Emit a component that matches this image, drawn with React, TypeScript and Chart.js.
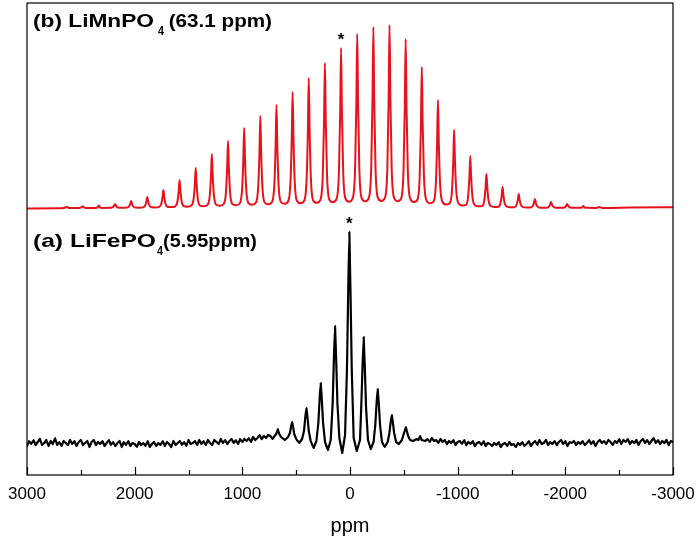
import React, { useEffect, useRef } from "react";
import { Chart, registerables } from "chart.js";

Chart.register(...registerables);

// ---------- axis ----------
const X_MIN = -3000;
const X_MAX = 3000;
const X_MAJOR_TICKS = [3000, 2000, 1000, 0, -1000, -2000, -3000];
const X_MINOR_TICKS = [2500, 1500, 500, -500, -1500, -2500];
const X_TITLE = "ppm";

// ---------- labels ----------
const LABEL_B = ["(b) LiMnPO", "4", " (63.1 ppm)"];
const LABEL_A = ["(a) LiFePO", "4", "(5.95ppm)"];
const STAR = "*";

// ---------- (b) LiMnPO4 spectrum: [ppm, intensity] ----------
const RED_SPECTRUM: [number, number][] = [
  [3000, -0.5], [2720, -0.3],
  [2660, 0], [2633, 1], [2606, 0],
  [2510, 0], [2483, 1.5], [2456, 0],
  [2365, 0.1], [2345, 0.6], [2333, 2.5], [2321, 0.6], [2301, 0.1],
  [2220, 0.25], [2203, 0.9], [2191, 2.4], [2183, 4], [2175, 2.4], [2163, 0.9], [2143, 0.25],
  [2108, 0.2],
  [2073, 0.4], [2053, 1.5], [2041, 4.2], [2033, 7], [2025, 4.2], [2013, 1.5], [1993, 0.4],
  [1958, 0.3],
  [1923, 0.65], [1903, 2.4], [1891, 6.6], [1883, 11], [1875, 6.6], [1863, 2.4], [1843, 0.65],
  [1808, 0.5],
  [1773, 1.1], [1753, 4], [1741, 10.8], [1733, 18], [1725, 10.8], [1713, 4], [1693, 1.1],
  [1658, 0.9],
  [1623, 1.7], [1603, 6.2], [1591, 16.8], [1583, 28], [1575, 16.8], [1563, 6.2], [1543, 1.7],
  [1508, 1.3],
  [1473, 2.4], [1453, 8.8], [1441, 24], [1433, 40], [1425, 24], [1413, 8.8], [1393, 2.4],
  [1358, 1.8],
  [1323, 3.2], [1303, 11.9], [1291, 32.4], [1283, 54], [1275, 32.4], [1263, 11.9], [1243, 3.2],
  [1208, 2.3],
  [1173, 4], [1153, 14.7], [1141, 40.2], [1133, 67], [1125, 40.2], [1113, 14.7], [1093, 4],
  [1058, 2.8],
  [1023, 4.8], [1003, 17.6], [991, 48], [983, 80], [975, 48], [963, 17.6], [943, 4.8],
  [908, 3.3],
  [873, 5.5], [853, 20.2], [841, 55.2], [833, 92], [825, 55.2], [813, 20.2], [793, 5.5],
  [758, 3.7],
  [723, 6.2], [703, 22.7], [691, 61.8], [683, 103], [675, 61.8], [663, 22.7], [643, 6.2],
  [608, 4.2],
  [573, 7], [553, 25.5], [541, 69.6], [533, 116], [525, 69.6], [513, 25.5], [493, 7],
  [458, 4.7],
  [423, 7.8], [403, 28.6], [391, 78], [383, 130], [375, 78], [363, 28.6], [343, 7.8],
  [308, 5.2],
  [273, 8.7], [253, 31.9], [241, 87], [233, 145], [225, 87], [213, 31.9], [193, 8.7],
  [158, 5.8],
  [123, 9.6], [103, 35.2], [91, 96], [83, 160], [75, 96], [63, 35.2], [43, 9.6],
  [8, 6.3],
  [-27, 10.4], [-47, 38.3], [-59, 104.4], [-67, 174], [-75, 104.4], [-87, 38.3], [-107, 10.4],
  [-142, 6.7],
  [-177, 10.9], [-197, 39.8], [-209, 108.6], [-217, 181], [-225, 108.6], [-237, 39.8], [-257, 10.9],
  [-292, 7],
  [-327, 11], [-347, 40.3], [-359, 109.8], [-367, 183], [-375, 109.8], [-387, 40.3], [-407, 11],
  [-442, 6.8],
  [-477, 10.1], [-497, 37.2], [-509, 101.4], [-517, 169], [-525, 101.4], [-537, 37.2], [-557, 10.1],
  [-592, 5.9],
  [-627, 8.5], [-647, 31], [-659, 84.6], [-667, 141], [-675, 84.6], [-687, 31], [-707, 8.5],
  [-742, 4.7],
  [-777, 6.5], [-797, 23.8], [-809, 64.8], [-817, 108], [-825, 64.8], [-837, 23.8], [-857, 6.5],
  [-892, 3.6],
  [-927, 4.7], [-947, 17.2], [-959, 46.8], [-967, 78], [-975, 46.8], [-987, 17.2], [-1007, 4.7],
  [-1042, 2.5],
  [-1077, 3.1], [-1097, 11.4], [-1109, 31.2], [-1117, 52], [-1125, 31.2], [-1137, 11.4], [-1157, 3.1],
  [-1192, 1.7],
  [-1227, 2], [-1247, 7.5], [-1259, 20.4], [-1267, 34], [-1275, 20.4], [-1287, 7.5], [-1307, 2],
  [-1342, 1.1],
  [-1377, 1.3], [-1397, 4.6], [-1409, 12.6], [-1417, 21], [-1425, 12.6], [-1437, 4.6], [-1457, 1.3],
  [-1492, 0.7],
  [-1527, 0.85], [-1547, 3.1], [-1559, 8.4], [-1567, 14], [-1575, 8.4], [-1587, 3.1], [-1607, 0.85],
  [-1642, 0.45],
  [-1677, 0.55], [-1697, 2], [-1709, 5.4], [-1717, 9], [-1725, 5.4], [-1737, 2], [-1757, 0.55],
  [-1792, 0.3],
  [-1827, 0.35], [-1847, 1.3], [-1859, 3.6], [-1867, 6], [-1875, 3.6], [-1887, 1.3], [-1907, 0.35],
  [-1942, 0.2],
  [-1980, 0.25], [-2000, 0.9], [-2009, 2.4], [-2017, 4], [-2025, 2.4], [-2037, 0.9], [-2057, 0.25],
  [-2140, 0.15], [-2155, 0.6], [-2167, 2], [-2179, 0.6], [-2194, 0.15],
  [-2290, 0.1], [-2317, 1], [-2344, 0.1],
  [-2600, 0.4], [-3000, 0.8],
];
const RED_STAR_PEAK: [number, number] = [83, 160];
const RED_OFFSET = 235; // vertical stacking offset of trace (b)

// ---------- (a) LiFePO4 spectrum ----------
// baseline noise sampled every 20 ppm
const BLACK_NOISE_STEP = 20;
const BLACK_NOISE_LEFT_START = 3000;
const BLACK_NOISE_LEFT = [
  -3, 2, -1, 3, -2, 1, 4, -2, 0, 3, -3,
  2, -1, 5, -2, 1, -3, 2, 0, -2, 3,
  -1, 2, -3, 1, 3, -2, 0, 2, -4, 1,
  3, -2, 1, -1, 2, -3, 0, 3, -2, 1,
  -3, 0, 2, -4, 1, -2, 2, -3, 0, -1,
  -4, 1, -2, 0, -3, 2, -4, -1, 1, -3,
  0, -2, 2, -3, 1, -1, -4, 2, -2, 0,
  2, -2, 1, -3, 3, -1, 0, 2, -2, 3,
  -1, 2, -2, 3, 0, -2, 3, 1, -1, 4,
  0, 3, -1, 2, 4, 0, 3, -1, 4, 1,
  4, 2, 5, 1, 6, 3, 5, 8, 4, 7, 5, 8,
];
const BLACK_PEAKS: [number, number][] = [
  [740, 7], [720, 4], [700, 7], [685, 9], [671, 14], [657, 9], [640, 6],
  [605, 3],
  [575, 6], [558, 10], [548, 16], [538, 21], [528, 16], [518, 9], [500, 4],
  [472, 0],
  [445, 4], [427, 12], [415, 26], [405, 35], [395, 26], [383, 12], [365, 2],
  [338, -5],
  [312, 2], [294, 20], [282, 44], [272, 60], [262, 44], [250, 20], [232, 1],
  [205, -7],
  [179, 3], [161, 40], [149, 86], [139, 117], [129, 86], [117, 40], [99, 5],
  [72, -10],
  [46, 8], [28, 75], [16, 155], [6, 211], [-4, 155], [-16, 75], [-34, 5],
  [-63, -8],
  [-93, 3], [-105, 38], [-117, 78], [-127, 106], [-137, 78], [-149, 36], [-167, 3],
  [-193, -6],
  [-219, 1], [-235, 18], [-247, 40], [-257, 54], [-267, 40], [-279, 18], [-297, 1],
  [-322, -4],
  [-350, 1], [-366, 10], [-378, 21], [-388, 28], [-398, 21], [-410, 10], [-428, 1],
  [-453, -1],
  [-482, 3], [-496, 8], [-508, 12], [-518, 16], [-528, 12], [-540, 7], [-558, 3],
  [-586, 2],
  [-620, 4], [-636, 3], [-650, 7], [-666, 3], [-700, 2],
];
const BLACK_NOISE_RIGHT_START = -720;
const BLACK_NOISE_RIGHT = [
  4, 1, 5, 2, 3, 0, 4, 1, 3, -1,
  2, 0, 3, -2, 1, 2, -1, 3, -2, 1,
  -1, 2, -3, 0, 1, -2, 2, -3, 0, -1,
  -3, 0, -2, 1, -4, -1, 0, -3, 1, -2,
  -1, -4, 0, -2, 1, -3, -1, 2, -3, 0,
  2, -2, 3, -1, 0, 3, -2, 1, -1, 2,
  -2, 1, 3, -1, 2, -3, 1, 0, 2, -2,
  1, -1, 2, -2, 0, 3, -1, 2, -3, 1,
  3, 0, 2, -1, 3, 1, -2, 2, 0, 4,
  -1, 3, 1, 4, -1, 2, 0, 3, -2, 2,
  4, 0, 3, -1, 2, 5, 0, 3, -1, 2,
  0, 3, -2, 2, 1,
];
const BLACK_STAR_PEAK: [number, number] = [6, 211];

const RED = "rgb(232,18,28)";
const FONT = "Arial, 'Liberation Sans', Helvetica, sans-serif";

function drawFitted(
  ctx: CanvasRenderingContext2D,
  text: string,
  x: number,
  y: number,
  width: number,
  font: string
) {
  ctx.save();
  ctx.font = font;
  const natural = ctx.measureText(text).width;
  ctx.translate(x, y);
  ctx.scale(width / natural, 1);
  ctx.fillText(text, 0, 0);
  ctx.restore();
}

const overlayPlugin = {
  id: "overlay",
  afterDraw(chart: any) {
    const { ctx, chartArea } = chart;
    const xs = chart.scales.x;
    const ys = chart.scales.y;
    const { left, right, top, bottom } = chartArea;
    ctx.save();
    // frame
    ctx.strokeStyle = "#000";
    ctx.lineWidth = 1.2;
    ctx.strokeRect(left, top, right - left, bottom - top);
    // inward ticks
    ctx.beginPath();
    X_MAJOR_TICKS.forEach((v) => {
      const px = Math.round(xs.getPixelForValue(v)) + 0.5;
      ctx.moveTo(px, bottom);
      ctx.lineTo(px, bottom - 8);
    });
    X_MINOR_TICKS.forEach((v) => {
      const px = Math.round(xs.getPixelForValue(v)) + 0.5;
      ctx.moveTo(px, bottom);
      ctx.lineTo(px, bottom - 5);
    });
    ctx.stroke();

    // tick labels
    ctx.fillStyle = "#000";
    ctx.textAlign = "center";
    ctx.textBaseline = "middle";
    ctx.font = `17px ${FONT}`;
    X_MAJOR_TICKS.forEach((v) => {
      ctx.fillText(String(v), xs.getPixelForValue(v), bottom + 19);
    });
    // axis title
    ctx.font = `20px ${FONT}`;
    ctx.textBaseline = "alphabetic";
    ctx.fillText(X_TITLE, (left + right) / 2, bottom + 57);

    // panel labels
    ctx.textAlign = "left";
    const big = `bold 19px ${FONT}`;
    const sub = `bold 12px ${FONT}`;
    drawFitted(ctx, LABEL_B[0], left + 6, top + 24.3, 121, big);
    drawFitted(ctx, LABEL_B[1], left + 131, top + 32, 6, sub);
    drawFitted(ctx, LABEL_B[2], left + 136, top + 24.3, 109, big);
    drawFitted(ctx, LABEL_A[0], left + 6, top + 244.3, 123, big);
    drawFitted(ctx, LABEL_A[1], left + 130, top + 252, 6, sub);
    drawFitted(ctx, LABEL_A[2], left + 136, top + 244.3, 94, big);

    // stars above the reference peaks
    ctx.textAlign = "center";
    ctx.textBaseline = "middle";
    ctx.font = `bold 17px ${FONT}`;
    const rx = xs.getPixelForValue(RED_STAR_PEAK[0]);
    const ry = ys.getPixelForValue(RED_STAR_PEAK[1] + RED_OFFSET);
    ctx.fillText(STAR, rx, ry - 8);
    const bx = xs.getPixelForValue(BLACK_STAR_PEAK[0]);
    const by = ys.getPixelForValue(BLACK_STAR_PEAK[1]);
    ctx.fillText(STAR, bx, by - 8);
    ctx.restore();
  },
};

export default function App() {
  const canvasRef = useRef<HTMLCanvasElement | null>(null);

  useEffect(() => {
    const canvas = canvasRef.current;
    if (!canvas) return;

    const redData = RED_SPECTRUM.map(([x, y]) => ({ x, y: y + RED_OFFSET }));
    const blackData = [
      ...BLACK_NOISE_LEFT.map((v, i) => ({
        x: BLACK_NOISE_LEFT_START - i * BLACK_NOISE_STEP,
        y: v,
      })),
      ...BLACK_PEAKS.map(([x, y]) => ({ x, y })),
      ...BLACK_NOISE_RIGHT.map((v, i) => ({
        x: BLACK_NOISE_RIGHT_START - i * BLACK_NOISE_STEP,
        y: v,
      })),
    ];

    const chart = new Chart(canvas, {
      type: "line",
      data: {
        datasets: [
          {
            label: "LiMnPO4",
            data: redData,
            borderColor: RED,
            borderWidth: 2,
            borderJoinStyle: "round",
            borderCapStyle: "round",
            pointRadius: 0,
            cubicInterpolationMode: "monotone",
            fill: false,
          },
          {
            label: "LiFePO4",
            data: blackData,
            borderColor: "#000",
            borderWidth: 2.2,
            borderJoinStyle: "round",
            borderCapStyle: "round",
            pointRadius: 0,
            tension: 0.0001,
            fill: false,
          },
        ],
      },
      options: {
        animation: false,
        responsive: true,
        maintainAspectRatio: false,
        layout: { padding: { left: 27, right: 26, top: 3, bottom: 68 } },
        plugins: {
          legend: { display: false },
          tooltip: { enabled: false },
        },
        scales: {
          x: {
            type: "linear",
            display: false,
            min: X_MIN,
            max: X_MAX,
            reverse: true,
          },
          y: {
            display: false,
            min: -32,
            max: 440,
          },
        },
      },
      plugins: [overlayPlugin],
    });

    return () => chart.destroy();
  }, []);

  return (
    <div
      style={{
        position: "fixed",
        left: 0,
        top: 0,
        width: 699,
        height: 543,
        background: "#fff",
      }}
    >
      <canvas ref={canvasRef} />
    </div>
  );
}
